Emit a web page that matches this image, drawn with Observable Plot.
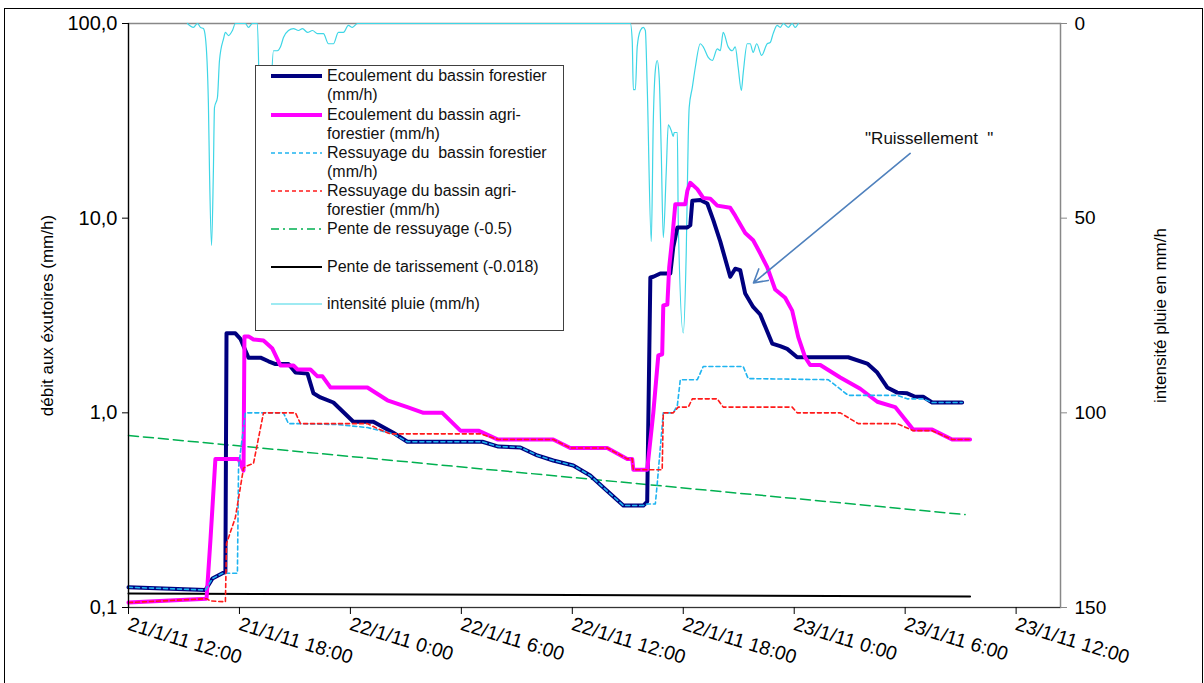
<!DOCTYPE html>
<html><head><meta charset="utf-8">
<script src="https://cdn.jsdelivr.net/npm/d3@7"></script>
<script src="https://cdn.jsdelivr.net/npm/@observablehq/plot@0.6"></script>
<style>
body{margin:0;background:#fff;font-family:"Liberation Sans",Arial,sans-serif;}
#wrap{position:relative;width:1204px;height:683px;overflow:hidden;background:#fff;}
#border{position:absolute;left:4px;top:8px;width:1199px;height:690px;border:1px solid #000;box-sizing:border-box;}
#chart{position:absolute;left:0;top:0;}
#legend{position:absolute;left:255px;top:65px;width:309px;height:266px;background:#fff;border:1px solid #404040;box-sizing:border-box;}
.lt{position:absolute;left:71px;font-size:16px;line-height:19px;white-space:pre;color:#111;}
.ls{position:absolute;left:14px;width:53px;height:8px;}
</style></head>
<body><div id="wrap"><div id="border"></div><div id="chart"></div><div id="legend"></div></div>
<script>
// hours since 21/1/11 12:00
const forestH = [0,4.16,4.54,5.08,5.24,5.30,5.78,6.05,6.49,7.14,7.57,7.95,8.65,9.03,9.68,10.0,10.38,11.08,12.16,13.24,14.32,15.08,19.14,20.0,21.19,22.11,22.97,24.05,24.97,25.68,26.76,27.84,28.05,28.22,28.38,28.76,29.3,29.46,29.68,30.22,30.38,30.49,30.92,31.3,31.62,32.0,32.54,32.81,33.08,33.35,33.78,34.16,34.81,35.24,35.62,36.16,38.92,39.95,40.49,41.03,41.57,42.11,42.54,42.97,43.46,45.08];
const forestV = [0.127,0.123,0.141,0.150,0.152,2.56,2.56,2.40,1.92,1.92,1.84,1.78,1.78,1.61,1.59,1.26,1.20,1.13,0.90,0.90,0.79,0.71,0.71,0.671,0.664,0.604,0.569,0.536,0.476,0.413,0.334,0.334,0.35,4.96,5.0,5.2,5.2,7.1,8.95,8.95,9.2,12.3,12.4,11.9,9.8,7.6,5.0,5.5,5.4,4.1,3.5,3.2,2.27,2.2,2.13,1.93,1.93,1.79,1.61,1.35,1.27,1.26,1.21,1.21,1.13,1.13];

const agriH = [0,4.22,4.43,4.70,5.95,6.22,6.27,6.49,6.76,7.30,7.78,8.22,8.92,9.14,9.84,10.22,10.49,10.92,12.92,14.0,15.08,15.95,16.97,17.95,18.92,19.95,22.97,23.89,25.89,26.97,27.24,27.3,28.05,28.38,28.65,28.86,28.92,29.14,29.24,29.41,29.57,30.11,30.22,30.38,30.76,31.08,31.46,31.84,32.54,32.81,33.35,33.78,34.16,34.54,34.97,35.51,35.89,36.22,36.59,36.86,37.41,38.49,39.57,40.49,41.46,42.43,43.46,44.54,45.51];
const agriV = [0.106,0.111,0.221,0.58,0.58,0.505,2.47,2.47,2.38,2.35,2.14,1.75,1.75,1.67,1.67,1.54,1.54,1.35,1.35,1.16,1.07,1.0,1.0,0.81,0.81,0.73,0.73,0.66,0.66,0.58,0.58,0.51,0.51,1.0,1.97,2.0,3.56,3.6,5.6,7.97,11.8,11.8,13.8,15.2,14.1,12.7,12.6,11.6,11.3,10.3,8.4,7.7,6.6,5.6,4.3,3.9,3.35,2.45,1.93,1.76,1.76,1.52,1.33,1.14,1.07,0.82,0.82,0.73,0.73];

const ressForH = [0,4.16,4.54,5.08,5.89,5.95,6.32,8.38,8.65,9.30,11.35,12.92,14.32,15.08,19.14,20.0,21.19,22.11,22.97,24.05,24.97,25.68,26.76,27.84,28.05,28.49,28.59,28.92,29.46,29.68,29.84,30.76,31.08,33.24,33.51,37.84,38.92,41.57,42.11,42.97,43.46,45.08];
const ressForV = [0.127,0.123,0.141,0.150,0.150,0.525,1.0,1.0,0.88,0.88,0.87,0.84,0.78,0.71,0.71,0.671,0.664,0.604,0.569,0.536,0.476,0.413,0.334,0.334,0.34,0.34,0.43,1.0,1.0,1.09,1.48,1.48,1.73,1.73,1.50,1.48,1.23,1.23,1.18,1.18,1.13,1.13];

const ressAgriH = [0,4.22,4.43,5.24,5.30,5.78,6.22,6.43,6.76,7.30,9.03,9.30,12.92,13.46,14.16,19.03,20.0,22.97,23.89,25.89,26.97,27.24,27.3,28.86,28.92,29.46,29.73,30.27,30.49,31.84,32.16,35.89,36.16,38.49,39.46,41.57,42.43,43.46,44.54,45.51];
const ressAgriV = [0.106,0.111,0.108,0.107,0.213,0.29,0.52,0.535,0.55,1.0,1.0,0.88,0.88,0.83,0.78,0.78,0.73,0.73,0.66,0.66,0.58,0.58,0.51,0.51,1.0,1.0,1.07,1.07,1.18,1.18,1.07,1.07,1.0,1.0,0.88,0.88,0.81,0.81,0.73,0.73];

const penteRessH = [0,45.24];
const penteRessV = [0.765,0.30];
const penteTarH = [0,45.51];
const penteTarV = [0.118,0.114];

const rainH = [3.19,3.51,3.73,3.89,4.05,4.16,4.32,4.38,4.49,4.59,4.65,4.81,4.92,5.14,5.24,5.41,5.62,5.78,6.32,6.49,6.70,6.97,7.08,7.24,7.46,7.68,7.84,8.05,8.22,8.38,8.65,8.92,9.19,9.41,9.68,9.95,10.22,10.54,10.81,11.08,11.35,11.62,11.89,12.11,12.38,27.14,27.24,27.30,27.41,27.51,27.68,27.84,27.95,28.05,28.27,28.38,28.49,28.59,28.70,28.81,28.92,29.08,29.19,29.35,29.46,29.51,29.68,29.73,30.0,30.16,30.27,30.32,30.49,30.65,30.92,31.08,31.35,31.57,31.84,32.0,32.16,32.43,32.65,32.81,32.97,33.14,33.24,33.46,33.62,33.78,33.97,34.24,34.54,34.70,34.86,35.08,35.24,35.41,35.68,35.89,36.05,36.22];
const rainV = [0,1,0,1,1.3,3.6,20.5,37.8,57,38,21.6,19,9.5,3.9,2.3,3.1,1.8,0,0,1,0,0,20,45,40,20,7,7,6,3.6,1.8,1.3,1.8,1.3,2.3,1.8,2.6,2.6,5.2,5.2,2.3,2.3,0.5,1,0,0,4.4,17,17,6,1.8,1,1.8,16,56,25,12,9.5,14,33,55,38,26,27.5,29,28,28,51,79.5,59,29,21.6,16.4,11.3,5.2,6,8.7,9.5,6.5,7,2.3,6,7,6,11.3,17.2,12.8,5.2,5.2,7.4,5.2,8.2,5.2,4.9,2.6,0.5,1,0,1,0,1,0];

const xTickH = [0,6,12,18,24,30,36,42,48];
const yTicks = [0.1,1,10,100];
const rainTicks = [0,50,100,150];
const annotText = ['"Ruissellement  "'];
const annotTextPos = {h:43.3, v:25.5};
const arrowPos = {h1:42.27, v1:21.5, h2:33.8, v2:4.65};

const start = Date.UTC(2011,0,21,12);
const T = h => new Date(start + h*3600e3);
const R = r => Math.pow(10, 2 - r/50);
const zip = (H,V) => H.map((h,i)=>({t:T(h), v:V[i]}));

const forest = zip(forestH, forestV), agri = zip(agriH, agriV);
const ressFor = zip(ressForH, ressForV), ressAgri = zip(ressAgriH, ressAgriV);
const pRess = zip(penteRessH, penteRessV), pTar = zip(penteTarH, penteTarV);
const rain = rainH.map((h,i)=>({t:T(h), v:R(rainV[i])}));

const fmtX = d => `${d.getUTCDate()}/${d.getUTCMonth()+1}/11 ${d.getUTCHours()}:00`;

const chart = Plot.plot({
  width:1204, height:683,
  marginLeft:128, marginRight:144, marginTop:23, marginBottom:76,
  style:{fontFamily:'"Liberation Sans", Arial, sans-serif', fontSize:"17px", color:"#000", background:"transparent", overflow:"visible"},
  x:{type:"utc", domain:[T(0), T(50.4)]},
  y:{type:"log", domain:[0.1,100]},
  marks:[
    Plot.frame({stroke:"#888", strokeWidth:1.5}),
    Plot.line(rain, {x:"t", y:"v", stroke:"#3ed6e6", strokeWidth:1.2, curve:"monotone-x"}),
    Plot.line(pTar, {x:"t", y:"v", stroke:"#000", strokeWidth:2}),
    Plot.line(pRess, {x:"t", y:"v", stroke:"#00b050", strokeWidth:1.5, strokeDasharray:"10,5"}),
    Plot.line(forest, {x:"t", y:"v", stroke:"#00007f", strokeWidth:4, strokeLinejoin:"round"}),
    Plot.line(agri, {x:"t", y:"v", stroke:"#ff00ff", strokeWidth:4, strokeLinejoin:"round"}),
    Plot.line(ressFor, {x:"t", y:"v", stroke:"#1fb4f0", strokeWidth:1.6, strokeDasharray:"4,3"}),
    Plot.line(ressAgri, {x:"t", y:"v", stroke:"#ff1a1a", strokeWidth:1.6, strokeDasharray:"4,3"}),
    Plot.ruleX([T(0)], {stroke:"#000", strokeWidth:1.2}),
    Plot.ruleY([0.1], {stroke:"#333", strokeWidth:1.2}),
    Plot.axisY({ticks:yTicks, tickFormat:d=>d.toFixed(1).replace(".",","), tickSize:6, tickPadding:5, label:null, fontSize:20}),
    Plot.axisY({anchor:"right", ticks:rainTicks.map(R), tickFormat:v=>String(Math.round((2-Math.log10(v))*50)), tickSize:6, tickPadding:8, label:null, fontSize:19, stroke:"#888"}),
    Plot.axisX({ticks:xTickH.map(T), tickFormat:fmtX, tickSize:7, tickPadding:9, tickRotate:17, label:null, fontSize:19.5}),
    Plot.text(["débit aux éxutoires (mm/h)"], {frameAnchor:"left", dx:-81, rotate:-90, fontSize:17, textAnchor:"middle"}),
    Plot.text(["intensité pluie en mm/h"], {frameAnchor:"right", dx:100, rotate:-90, fontSize:17, textAnchor:"middle"}),
    Plot.arrow([arrowPos], {x1:d=>T(d.h1), y1:"v1", x2:d=>T(d.h2), y2:"v2", stroke:"#4f81bd", strokeWidth:1.6, headLength:14, bend:0}),
    Plot.text(annotText, {x:T(annotTextPos.h), y:annotTextPos.v, fontSize:17, fill:"#111"})
  ]
});
document.getElementById("chart").appendChild(chart);

// legend
const legendItems = [
  {lines:["Ecoulement du bassin forestier","(mm/h)"], y:75, stroke:"#00007f", w:4, dash:null},
  {lines:["Ecoulement du bassin agri-","forestier (mm/h)"], y:114, stroke:"#ff00ff", w:4, dash:null},
  {lines:["Ressuyage du  bassin forestier","(mm/h)"], y:152, stroke:"#1fb4f0", w:1.6, dash:"4,3"},
  {lines:["Ressuyage du bassin agri-","forestier (mm/h)"], y:190, stroke:"#ff1a1a", w:1.6, dash:"4,3"},
  {lines:["Pente de ressuyage (-0.5)"], y:228, stroke:"#00b050", w:1.6, dash:"8,4,2,4"},
  {lines:["Pente de tarissement (-0.018)"], y:266, stroke:"#000", w:2, dash:null},
  {lines:["intensité pluie (mm/h)"], y:303, stroke:"#3ed6e6", w:1.2, dash:null}
];
const lg = document.getElementById("legend");
legendItems.forEach(it=>{
  const top = it.y - 65;
  const s = document.createElementNS("http://www.w3.org/2000/svg","svg");
  s.setAttribute("class","ls"); s.style.top=(top-5)+"px";
  s.setAttribute("width","53"); s.setAttribute("height","10");
  const l = document.createElementNS("http://www.w3.org/2000/svg","line");
  l.setAttribute("x1","1"); l.setAttribute("x2","52"); l.setAttribute("y1","5"); l.setAttribute("y2","5");
  l.setAttribute("stroke",it.stroke); l.setAttribute("stroke-width",it.w);
  if(it.dash) l.setAttribute("stroke-dasharray",it.dash);
  s.appendChild(l); lg.appendChild(s);
  it.lines.forEach((t,i)=>{
    const d=document.createElement("div"); d.className="lt"; d.textContent=t;
    d.style.top=(top-10+i*19)+"px"; lg.appendChild(d);
  });
});
</script></body></html>
